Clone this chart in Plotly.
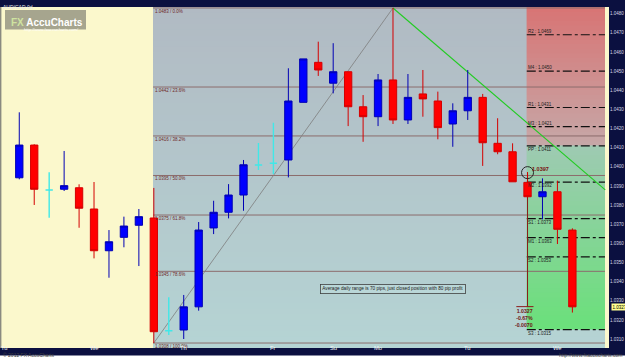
import plotly.graph_objects as go

# ---------------- data ----------------
candle_x = list(range(38))
opens = [1.03943, 1.04114, 1.03879, 1.03883, 1.03891, 1.03780, 1.03562, 1.03632, 1.03695, 1.03733,
         1.03144, 1.03148, 1.03269, 1.03681, 1.03763, 1.03853, 1.04010, 1.04019, 1.04036, 1.04337,
         1.04546, 1.04437, 1.04497, 1.04314, 1.04262, 1.04454, 1.04245, 1.04381, 1.04344, 1.04224,
         1.04293, 1.04363, 1.04123, 1.04079, 1.03919, 1.03844, 1.03870, 1.03670]
highs = [1.04285, 1.04118, 1.03972, 1.04083, 1.03909, 1.03921, 1.03670, 1.03740, 1.03780, 1.03890,
         1.03319, 1.03331, 1.03712, 1.03823, 1.03910, 1.04036, 1.04125, 1.04231, 1.04515, 1.04564,
         1.04654, 1.04646, 1.04497, 1.04375, 1.04485, 1.04830, 1.04485, 1.04506, 1.04393, 1.04332,
         1.04506, 1.04381, 1.04254, 1.04123, 1.03973, 1.03940, 1.03928, 1.03679]
lows = [1.03935, 1.03801, 1.03734, 1.03874, 1.03682, 1.03522, 1.03421, 1.03580, 1.03482, 1.03080,
        1.03122, 1.03101, 1.03249, 1.03649, 1.03731, 1.03771, 1.03984, 1.03963, 1.03945, 1.04337,
        1.04475, 1.04384, 1.04213, 1.04131, 1.04213, 1.04224, 1.04224, 1.04262, 1.04144, 1.04105,
        1.04245, 1.04005, 1.04066, 1.03922, 1.03840, 1.03726, 1.03597, 1.03239]
closes = [1.04114, 1.03883, 1.03879, 1.03902, 1.03784, 1.03562, 1.03609, 1.03691, 1.03740, 1.03139,
          1.03144, 1.03269, 1.03670, 1.03763, 1.03853, 1.04011, 1.04010, 1.04019, 1.04344, 1.04564,
          1.04506, 1.04497, 1.04314, 1.04262, 1.04454, 1.04245, 1.04363, 1.04355, 1.04205, 1.04293,
          1.04363, 1.04126, 1.04079, 1.03922, 1.03844, 1.03870, 1.03674, 1.03269]
doji_index = [2, 10, 16, 17]

day_ticks = [-1, 5, 11, 17, 21, 24, 30, 36]
day_labels = ["Tu", "We", "Th", "Fr", "Su", "Mo", "Tu", "We"]

fib_high = 1.0483
fib_low = 1.0308
fib_high_idx = 25
fib_low_idx = 9
fib_pcts = [0.0, 23.6, 38.2, 50.0, 61.8, 78.6, 100.0]

pivot_names = ["R2", "M4", "R1", "M3", "PP", "M2", "S1", "M1", "S2", "S3"]
pivot_values = [1.0469, 1.0450, 1.0431, 1.0421, 1.0411, 1.0392, 1.0373, 1.0363, 1.0353, 1.0315]

trend_x = [25, 39.2]
trend_y = [1.0483, 1.0388]

circle_idx = 34
circle_price = 1.0397
measure_to = 1.0327
measure_lines = ["1.0327", "-0.67%", "-0.0070"]
last_price = 1.0327

note_text = "Average daily range is 70 pips, just closed position with 80 pip profit"
note_x, note_y = 25.0, 1.0336

x_range = [-1.29, 39.45]
y_range = [1.03054, 1.04835]
yellow_end = 8.95
zone_start = 33.95
zone_end = 39.18
pp_level = 1.0411
s3_level = 1.0315

NAVY = "#0b1040"
CREAM = "#fbf8cc"
FONT = "Liberation Sans, Arial, sans-serif"

shapes = []


def lerp(c0, c1, t):
    return "rgb(%d,%d,%d)" % tuple(round(a + (b - a) * t) for a, b in zip(c0, c1))


def grad_rect(x0, x1, y0, y1, c_bottom, c_top, n):
    h = (y1 - y0) / n
    for k in range(n):
        top = min(y1, y0 + (k + 2) * h)
        shapes.append(dict(type="rect", xref="x", yref="y", x0=x0, x1=x1, y0=y0 + k * h,
                           y1=top, fillcolor=lerp(c_bottom, c_top, (k + 0.5) / n),
                           line=dict(width=0), layer="below"))


# backgrounds
shapes.append(dict(type="rect", xref="x", yref="y", x0=x_range[0], x1=yellow_end, y0=y_range[0], y1=y_range[1],
                   fillcolor=CREAM, line=dict(width=0), layer="below"))
grad_rect(yellow_end, zone_end, y_range[0], y_range[1], (181, 212, 212), (177, 186, 195), 60)
grad_rect(zone_start, zone_end, pp_level, y_range[1], (198, 168, 168), (216, 116, 116), 30)
grad_rect(zone_start, zone_end, s3_level, pp_level, (106, 224, 122), (158, 202, 178), 40)

fig = go.Figure()
annotations = []

# fib levels
for p in fib_pcts:
    lv = fib_high - p / 100.0 * (fib_high - fib_low)
    shapes.append(dict(type="line", xref="x", yref="y", x0=yellow_end, x1=zone_end, y0=lv, y1=lv,
                       line=dict(color="rgb(140,108,108)", width=1), layer="below"))
    annotations.append(dict(x=yellow_end + 0.03, y=lv, xanchor="left", yanchor="top", showarrow=False,
                            text=f"{lv:.4f} / {p:.1f}%", font=dict(size=4.5, color="#6e2828", family=FONT),
                            borderpad=0))

# pivot levels (labels above the line over PP, below it from PP down)
for n, v in zip(pivot_names, pivot_values):
    shapes.append(dict(type="line", xref="x", yref="y", x0=zone_start, x1=zone_end, y0=v, y1=v,
                       line=dict(color="#101010", width=1.2, dash="dashdot"), layer="below"))
    annotations.append(dict(x=zone_start + 0.02, y=v, xanchor="left",
                            yanchor="bottom" if v > pp_level else "top", showarrow=False,
                            text=f"{n} : {v:.4f}", font=dict(size=4.5, color="#202020", family=FONT),
                            borderpad=0))

# fib diagonal, trendline, measure line
shapes.append(dict(type="line", xref="x", yref="y", x0=fib_low_idx, x1=fib_high_idx, y0=fib_low, y1=fib_high,
                   line=dict(color="rgb(125,125,125)", width=0.8), layer="below"))
shapes.append(dict(type="line", xref="x", yref="y", x0=trend_x[0], x1=trend_x[1], y0=trend_y[0], y1=trend_y[1],
                   line=dict(color="#22cc22", width=1.1), layer="below"))
shapes.append(dict(type="line", xref="x", yref="y", x0=circle_idx, x1=circle_idx, y0=circle_price, y1=measure_to,
                   line=dict(color="#8b1a1a", width=1), layer="below"))
shapes.append(dict(type="line", xref="x", yref="y", x0=circle_idx - 0.75, x1=circle_idx + 0.4,
                   y0=measure_to, y1=measure_to, line=dict(color="#8b1a1a", width=1), layer="below"))

# candles
main = [i for i in candle_x if i not in doji_index]
fig.add_trace(go.Candlestick(
    x=main, open=[opens[i] for i in main], high=[highs[i] for i in main],
    low=[lows[i] for i in main], close=[closes[i] for i in main],
    increasing=dict(fillcolor="#0000ff", line=dict(color="#0000b4", width=1)),
    decreasing=dict(fillcolor="#ff0000", line=dict(color="#d40000", width=1)),
    hoverinfo="none"))
fig.add_trace(go.Candlestick(
    x=doji_index, open=[opens[i] for i in doji_index], high=[highs[i] for i in doji_index],
    low=[lows[i] for i in doji_index], close=[closes[i] for i in doji_index],
    increasing=dict(fillcolor="#40e8e8", line=dict(color="#40e8e8", width=1.4)),
    decreasing=dict(fillcolor="#40e8e8", line=dict(color="#40e8e8", width=1.4)),
    hoverinfo="none"))

# circle at the high
fig.add_trace(go.Scatter(x=[circle_idx], y=[circle_price], mode="markers",
                         marker=dict(symbol="circle-open", size=12, color="#262626", line=dict(width=1)),
                         hoverinfo="skip"))
annotations.append(dict(x=circle_idx + 0.22, y=circle_price, xanchor="left", yanchor="bottom", showarrow=False,
                        text=f"<b>{circle_price:.4f}</b>", font=dict(size=5.5, color="#7a1010", family=FONT),
                        borderpad=0))
annotations.append(dict(x=circle_idx + 0.4, y=measure_to, xanchor="right", yanchor="top", showarrow=False,
                        text="<br>".join(f"<b>{t}</b>" for t in measure_lines), align="right",
                        font=dict(size=5.2, color="#6e1414", family=FONT), borderpad=0))

# note
annotations.append(dict(x=note_x, y=note_y, showarrow=False, text=note_text,
                        font=dict(size=4.7, color="#202020", family=FONT),
                        bordercolor="#404040", borderwidth=0.8, borderpad=1.5, bgcolor="rgba(190,220,220,0.6)"))

# last price label on axis
annotations.append(dict(xref="paper", x=1.004, y=last_price, xanchor="left", showarrow=False,
                        text=f"{last_price:.4f}", font=dict(size=4.5, color="#000000", family=FONT),
                        bgcolor="#ffff90", borderpad=0.5))

PW, PH = 609.0, 341.0


def px(xp):
    return xp / PW


def py(yp):
    return (348.0 - yp) / PH


shapes += [
    dict(type="rect", xref="paper", yref="paper", x0=0, x1=px(625), y0=py(362), y1=py(355.5),
         fillcolor="#ffffff", line=dict(width=0), layer="above"),
    dict(type="rect", xref="paper", yref="paper", x0=px(5), x1=px(86), y0=py(29.5), y1=py(10),
         fillcolor="rgba(150,150,130,0.85)", line=dict(width=0), layer="above"),
    dict(type="line", xref="paper", yref="paper", x0=px(0.7), x1=px(0.7), y0=0, y1=1,
         line=dict(color="#8a8a80", width=1.4), layer="above"),
]

annotations += [
    dict(xref="paper", yref="paper", x=px(10), y=py(16), xanchor="left", showarrow=False,
         text="<b><span style='color:#cfe3a0'>FX</span> AccuCharts</b>",
         font=dict(size=10, color="#ffffff", family=FONT), borderpad=0),
    dict(xref="paper", yref="paper", x=px(23), y=py(26), xanchor="left", showarrow=False,
         text="http://www.fxaccucharts.com/", font=dict(size=4.2, color="#ffffff", family=FONT), borderpad=0),
    dict(xref="paper", yref="paper", x=px(1.5), y=py(3), xanchor="left", showarrow=False,
         text="AUD/CAD 0d", font=dict(size=5, color="#e8e8e8", family=FONT), borderpad=0),
    dict(xref="paper", yref="paper", x=px(2), y=py(359), xanchor="left", showarrow=False,
         text="© 2012 FX AccuCharts", font=dict(size=5, color="#404040", family=FONT), borderpad=0),
    dict(xref="paper", yref="paper", x=px(623), y=py(359), xanchor="right", showarrow=False,
         text="http://www.fxaccucharts.com", font=dict(size=5, color="#404040", family=FONT), borderpad=0),
]
for t, lab in zip(day_ticks, day_labels):
    annotations.append(dict(x=t, xref="x", yref="paper", y=py(351.8), showarrow=False, text=lab,
                            font=dict(size=5.8, color="#f4f4f4", family=FONT), borderpad=0))

fig.update_layout(
    width=625, height=362, margin=dict(l=0, r=16, t=7, b=14, pad=0),
    paper_bgcolor=NAVY, plot_bgcolor=CREAM, showlegend=False,
    shapes=shapes, annotations=annotations,
    xaxis=dict(range=x_range, showgrid=False, zeroline=False, showticklabels=False, ticks="",
               showline=False, rangeslider=dict(visible=False), fixedrange=True),
    yaxis=dict(side="right", range=y_range, dtick=0.001, tick0=1.031, tickformat=".4f",
               tickfont=dict(size=4.5, color="#d8d8e4", family=FONT), showgrid=False, zeroline=False,
               ticks="", showline=False, fixedrange=True),
)

fig.write_html("out.html")
